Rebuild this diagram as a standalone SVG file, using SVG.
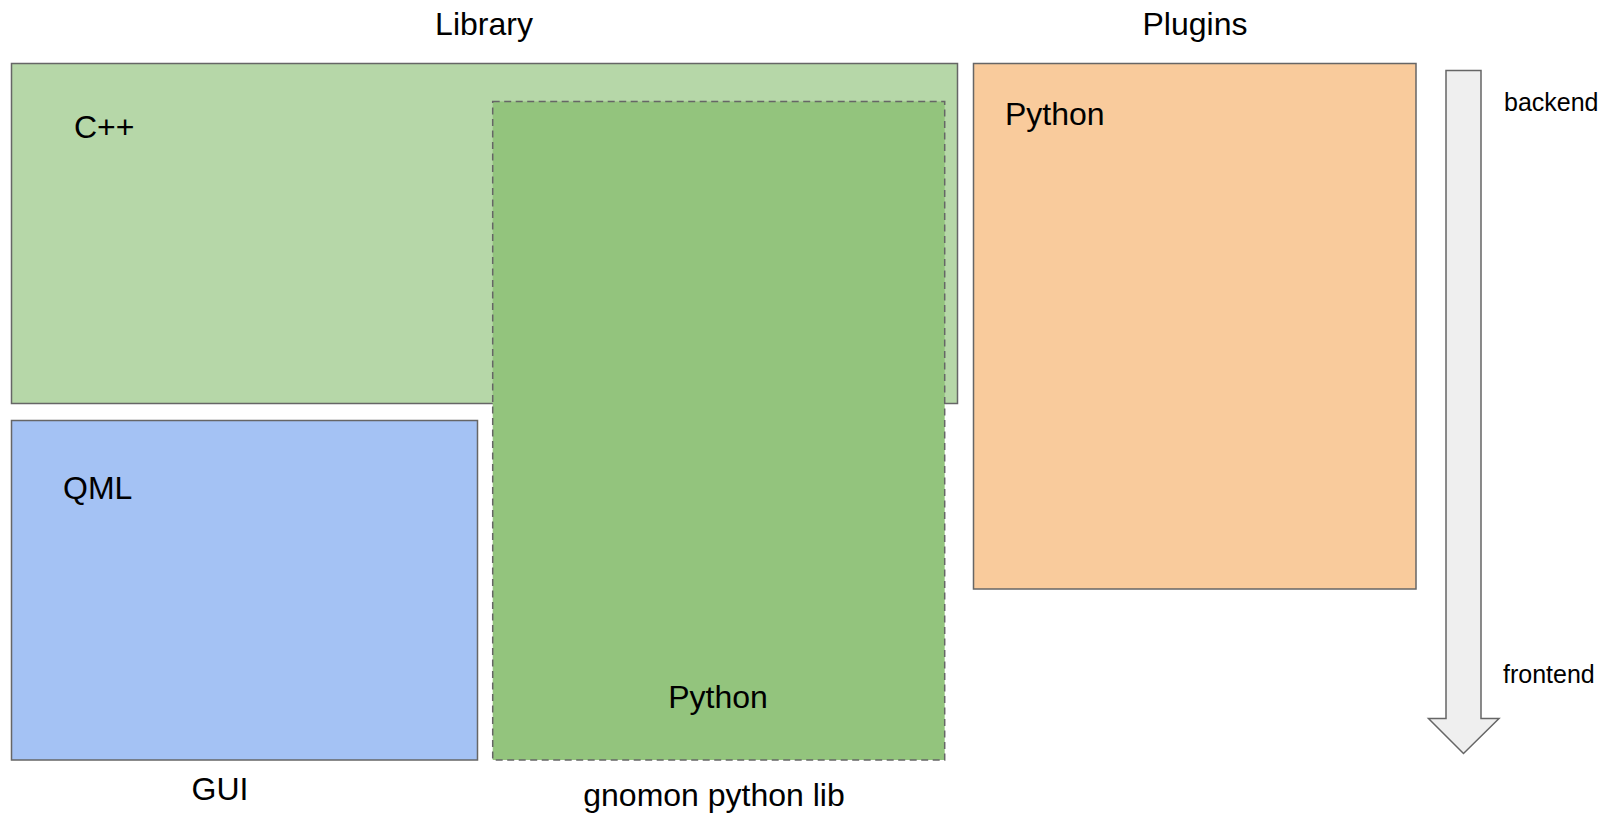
<svg xmlns="http://www.w3.org/2000/svg" width="1613" height="817" viewBox="0 0 1613 817">
  <style>
    .box { stroke: #666666; stroke-width: 1.5; }
    .dash { stroke-dasharray: 7 4.5; }
    .t { font-family: "Liberation Sans", Arial, sans-serif; fill: #000000; }
    .big { font-size: 32px; }
    .small { font-size: 25px; }
    .mid { text-anchor: middle; }
  </style>
  <rect width="1613" height="817" fill="#ffffff"/>

  <!-- section headings -->
  <text class="t big mid" x="484" y="35">Library</text>
  <text class="t big mid" x="1195" y="35">Plugins</text>

  <g id="cpp">
    <rect class="box" x="11.5" y="63.5" width="946" height="340" fill="#b6d7a8"/>
    <text class="t big" x="74" y="138">C++</text>
  </g>

  <g id="python-lib">
    <rect class="box dash" x="492.7" y="101.5" width="452" height="658.5" fill="#93c47d"/>
    <text class="t big mid" x="718" y="708">Python</text>
  </g>
  <text class="t big mid" x="714" y="806">gnomon python lib</text>

  <g id="qml">
    <rect class="box" x="11.5" y="420.5" width="466" height="339.5" fill="#a4c2f4"/>
    <text class="t big" x="63" y="499">QML</text>
  </g>
  <text class="t big mid" x="220" y="800">GUI</text>

  <g id="plugins">
    <rect class="box" x="973.5" y="63.5" width="442.5" height="525.5" fill="#f9cb9c"/>
    <text class="t big" x="1005" y="125">Python</text>
  </g>

  <g id="connectors">
    <path class="box" d="M1446 70.5 H1481 V718.5 H1499 L1463.5 753.5 L1428.5 718.5 H1446 Z" fill="#efefef" stroke-linejoin="miter"/>
    <text class="t small" x="1504" y="111">backend</text>
    <text class="t small" x="1503" y="683">frontend</text>
  </g>
</svg>
